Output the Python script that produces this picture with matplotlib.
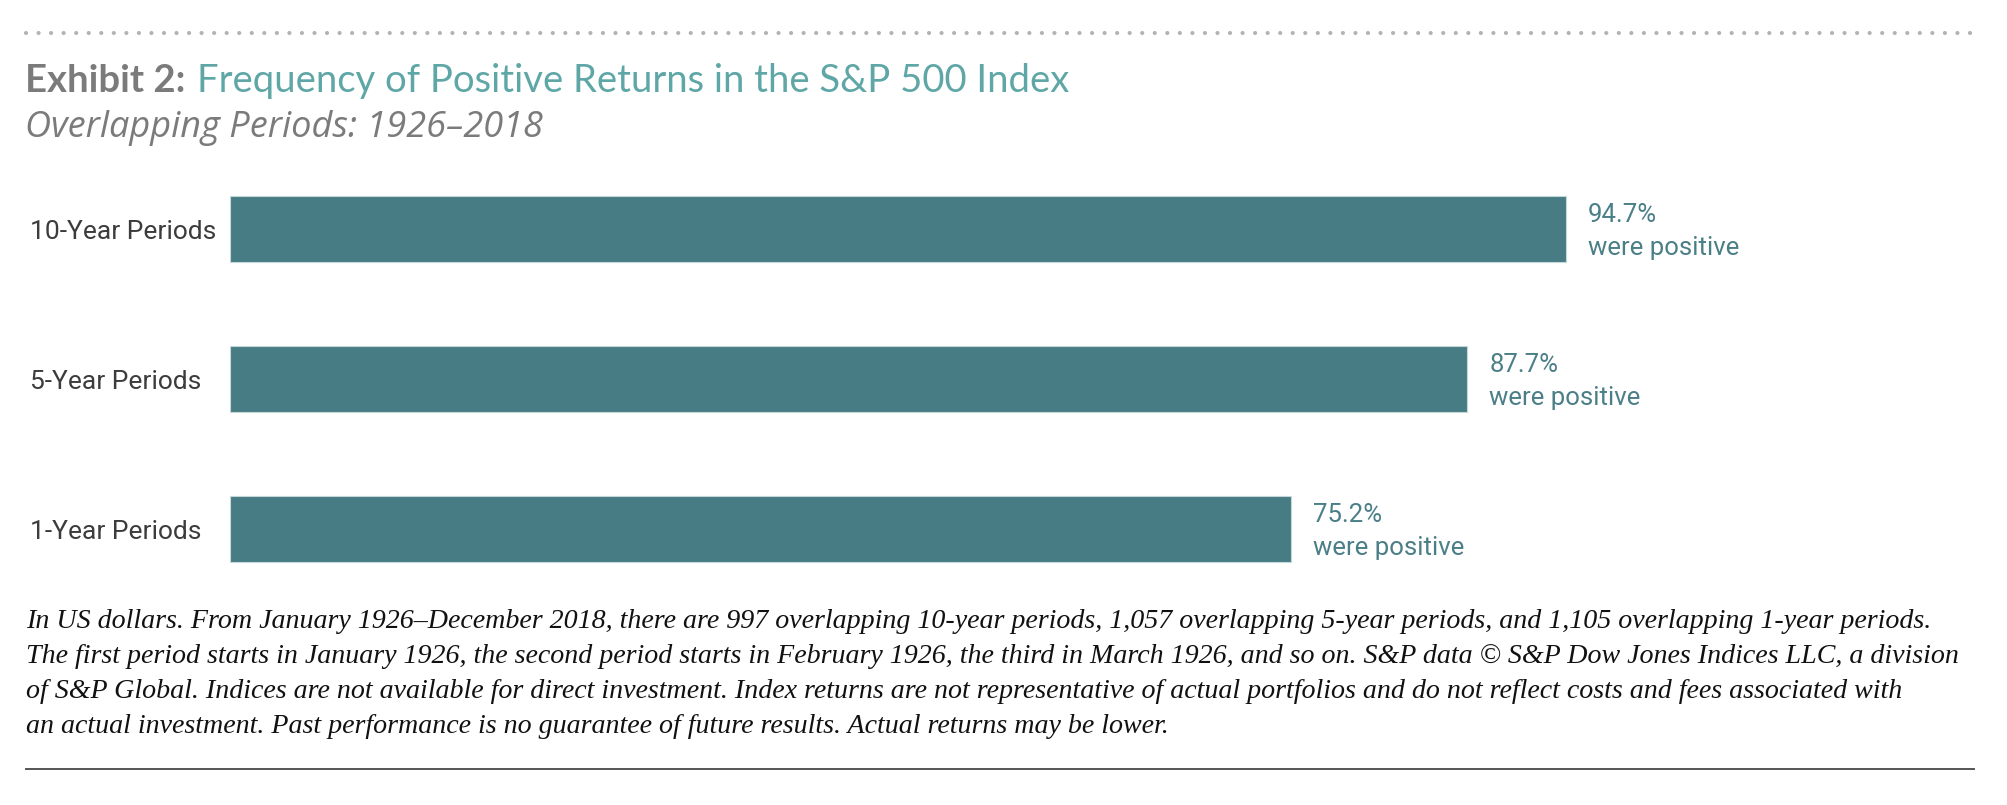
import matplotlib
matplotlib.use('Agg')
import matplotlib.pyplot as plt
import matplotlib.transforms as mtransforms
from matplotlib.lines import Line2D

# ─── Data ──────────────────────────────────────────────────────────────────────
periods = ['1-Year Periods', '5-Year Periods', '10-Year Periods']
pct_positive = [75.2, 87.7, 94.7]

TITLE_LEAD = 'Exhibit 2:'
TITLE_MAIN = 'Frequency of Positive Returns in the S&P 500 Index'
SUBTITLE = 'Overlapping Periods: 1926\u20132018'
FOOTNOTE = [
    'In US dollars. From January 1926\u2013December 2018, there are 997 overlapping 10-year periods, '
    '1,057 overlapping 5-year periods, and 1,105 overlapping 1-year periods.',
    'The first period starts in January 1926, the second period starts in February 1926, the third in '
    'March 1926, and so on. S&P data \u00a9 S&P Dow Jones Indices LLC, a division',
    'of S&P Global. Indices are not available for direct investment. Index returns are not representative '
    'of actual portfolios and do not reflect costs and fees associated with',
    'an actual investment. Past performance is no guarantee of future results. Actual returns may be lower.',
]

# ─── Style ─────────────────────────────────────────────────────────────────────
W, H = 2008, 805
BAR_CLR = '#487C84'
TEAL = '#5FA6A7'
VAL_CLR = '#4B7F87'
GREY = '#7B7B7B'
LABEL_CLR = '#3C3C3C'
SANS = ['Lato', 'DejaVu Sans']
SUB = ['Open Sans', 'Lato', 'DejaVu Sans']
NARROW = ['Roboto', 'DejaVu Sans']
SERIF = ['Liberation Serif', 'DejaVu Serif']

fig = plt.figure(figsize=(W / 100, H / 100), dpi=100)
fig.patch.set_facecolor('white')


def px(x, y):
    """pixel coords (from top-left) -> figure fraction"""
    return x / W, 1 - y / H


# ─── Chart axes: 0..100 % spans x 230..1641 px ────────────────────────────────
ax = fig.add_axes([230 / W, 1 - 604 / H, 1411 / W, 450 / H])
ax.barh(range(len(periods)), pct_positive, height=0.44, color=BAR_CLR,
        edgecolor='#C5D7D9', linewidth=0.8)
ax.set_xlim(0, 100)
ax.set_ylim(-0.5, 2.5)
ax.axis('off')

fig_x_data_y = mtransforms.blended_transform_factory(fig.transFigure, ax.transData)
for i, (lab, v) in enumerate(zip(periods, pct_positive)):
    ax.annotate(lab, xy=(30 / W, i), xycoords=fig_x_data_y, xytext=(0, -10),
                textcoords='offset pixels', ha='left', va='baseline',
                fontsize=19, family=NARROW, color=LABEL_CLR)
    ax.annotate(f'{v:.1f}%', xy=(v, i), xytext=(22, 7),
                textcoords='offset pixels', ha='left', va='baseline',
                fontsize=18.5, family=NARROW, color=VAL_CLR)
    ax.annotate('were positive', xy=(v, i), xytext=(22, -26),
                textcoords='offset pixels', ha='left', va='baseline',
                fontsize=18.5, family=NARROW, color=VAL_CLR)

# ─── Header ────────────────────────────────────────────────────────────────────
fig.add_artist(Line2D([26 / W, 1974 / W], [1 - 33 / H] * 2, color='#B3B3B3',
                      lw=3.0, dashes=[0.01, 3.0], dash_capstyle='round'))

t1 = fig.text(*px(25, 92), TITLE_LEAD, ha='left', va='baseline',
              fontsize=27.5, fontweight='bold', family=SANS, color=GREY)
fig.canvas.draw()
bb = t1.get_window_extent()
fig.text((bb.x1 + 12) / W, 1 - 92 / H, TITLE_MAIN, ha='left', va='baseline',
         fontsize=27.5, family=SANS, color=TEAL)
fig.text(*px(25, 137), SUBTITLE, ha='left', va='baseline',
         fontsize=26, style='italic', family=SUB, color=GREY)

# ─── Footnote ──────────────────────────────────────────────────────────────────
for k, line in enumerate(FOOTNOTE):
    fig.text(*px(26, 628 + k * 35), line, ha='left', va='baseline',
             fontsize=20.2, style='italic', family=SERIF, color='#111111')

fig.add_artist(Line2D([26 / W, 1974 / W], [1 - 769 / H] * 2,
                      color='#555555', lw=1.4))

fig.savefig('out.png', dpi=100, facecolor='white')
